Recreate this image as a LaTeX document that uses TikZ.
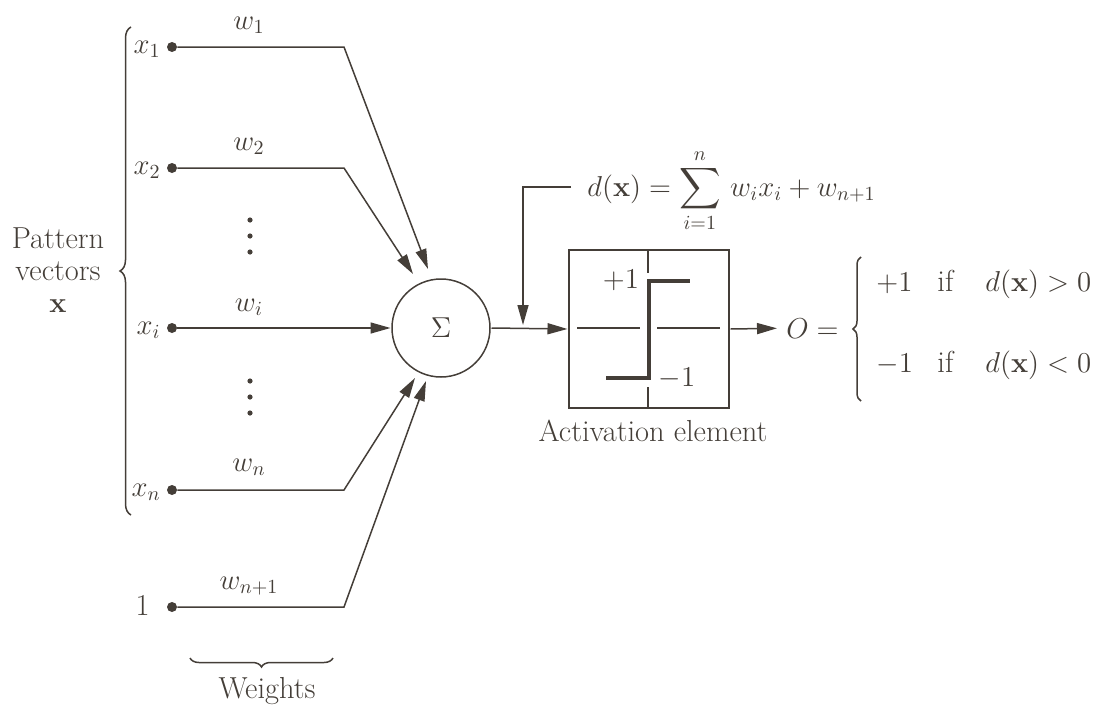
\documentclass[tikz,border=0pt]{standalone}
\usepackage{amsmath}
\usetikzlibrary{arrows.meta,decorations.pathreplacing}
\definecolor{ink}{RGB}{68,62,56}
\begin{document}
\begin{tikzpicture}[x=0.5pt,y=-0.5pt,scale=2,
  every node/.style={text=ink, font=\fontsize{14}{17}\selectfont, transform shape},
  txt/.style={font=\fontsize{15.2}{17}\selectfont},
  line/.style={draw=ink, line width=1.5pt},
  arr/.style={line, -{Triangle[length=20pt,width=11pt]}},
  dot/.style={circle, fill=ink, inner sep=0pt, minimum size=5pt},
  brace/.style={line, decorate, decoration={brace, amplitude=#1}},
  lab/.style={anchor=east, inner sep=1pt},
  wlab/.style={inner sep=0pt}
]
\useasboundingbox (0,0) rectangle (1095,712);

% inputs
\node[dot] (in1) at (172,47) {};
\node[dot] (in2) at (172,168) {};
\node[dot] (ini) at (172,328) {};
\node[dot] (inn) at (172,490) {};
\node[dot] (in0) at (172,607) {};
\node[lab] (lx1) at (163,49) {$x_1$};
\node[lab] (lx2) at (163,170) {$x_2$};
\node[lab] (lxi) at (163,330) {$x_i$};
\node[lab] (lxn) at (163,492) {$x_n$};
\node[lab, txt] (l1) at (152,605) {1};

% weights labels
\node[wlab] (w1) at (249,25) {$w_1$};
\node[wlab] (w2) at (249,146) {$w_2$};
\node[wlab] (wi) at (249,307) {$w_i$};
\node[wlab] (wn) at (249,467) {$w_n$};
\node[wlab] (wn1) at (249,586) {$w_{n+1}$};

% vertical dots
\foreach \y in {220,236,252,381,397,413} \fill[ink] (250,\y) circle (1.3pt);

% summation node
\node[circle, draw=ink, line width=1.5pt, minimum size=49pt, inner sep=0pt,
      font=\fontsize{14}{17}\selectfont] (sum) at (441,328) {$\Sigma$};

% elbows and tips
\coordinate (b1) at (344,47);
\coordinate (b2) at (344,168);
\coordinate (bn) at (344,490);
\coordinate (b0) at (344,607);
\coordinate (t1) at (428,269);
\coordinate (t2) at (413,274);
\coordinate (tn) at (415,378);
\coordinate (t0) at (426,381);

\draw[arr] (in1) -- (b1) -- (t1);
\draw[arr] (in2) -- (b2) -- (t2);
\draw[arr] (ini) -- (sum.west);
\draw[arr] (inn) -- (bn) -- (tn);
\draw[arr] (in0) -- (b0) -- (t0);

% left brace
\draw[brace=11pt] (131,515) -- (131,27);
\node[txt, align=center, inner sep=0pt] (pv) at (58,270)
  {Pattern\\[-1pt]vectors\\[-1pt]$\mathbf{x}$};

% bottom brace
\draw[brace=9pt] (333,658) -- (190,658);
\node[txt] (wt) at (267,691) {Weights};

% activation element
\node[draw=ink, line width=1.5pt, minimum width=80pt, minimum height=79pt, inner sep=0pt] (act) at (649,329) {};
\draw[line] (648,250) -- (648,273);
\draw[line] (648,387) -- (648,408);
\draw[line] (577,328) -- (640,328);
\draw[line] (657,328) -- (720,328);
\draw[draw=ink, line width=3.6pt] (606,378) -- (649,378) -- (649,281) -- (690,281);
\node (p1) at (621,280) {$+1$};
\node (m1) at (677,378) {$-1$};
\node[txt] (actl) at (653,431) {Activation element};

\draw[arr] (sum.east) -- (act.west);

% formula
\node[anchor=base west, inner sep=0pt] (dx) at (587,196)
  {$\displaystyle d(\mathbf{x}) = \sum_{i=1}^{n}\, w_i x_i + w_{n+1}$};
\coordinate (fs) at (571,187);
\coordinate (ft) at (523,325);
\draw[arr] (fs) -| (ft);

% output
\node[anchor=base west, inner sep=0pt] (out) at (786,338) {$O =$};
\draw[arr, shorten >=9pt] (act.east) -- (out.west);
\draw[brace=8pt] (861,401) -- (861,257);
\node[anchor=base west, inner sep=0pt] (r1a) at (876,291) {$+1$};
\node[anchor=base west, inner sep=0pt, txt] (r1b) at (937,291) {if};
\node[anchor=base west, inner sep=0pt] (r1c) at (985,291) {$d(\mathbf{x}) > 0$};
\node[anchor=base west, inner sep=0pt] (r2a) at (876,372) {$-1$};
\node[anchor=base west, inner sep=0pt, txt] (r2b) at (937,372) {if};
\node[anchor=base west, inner sep=0pt] (r2c) at (985,372) {$d(\mathbf{x}) < 0$};
\end{tikzpicture}
\end{document}
